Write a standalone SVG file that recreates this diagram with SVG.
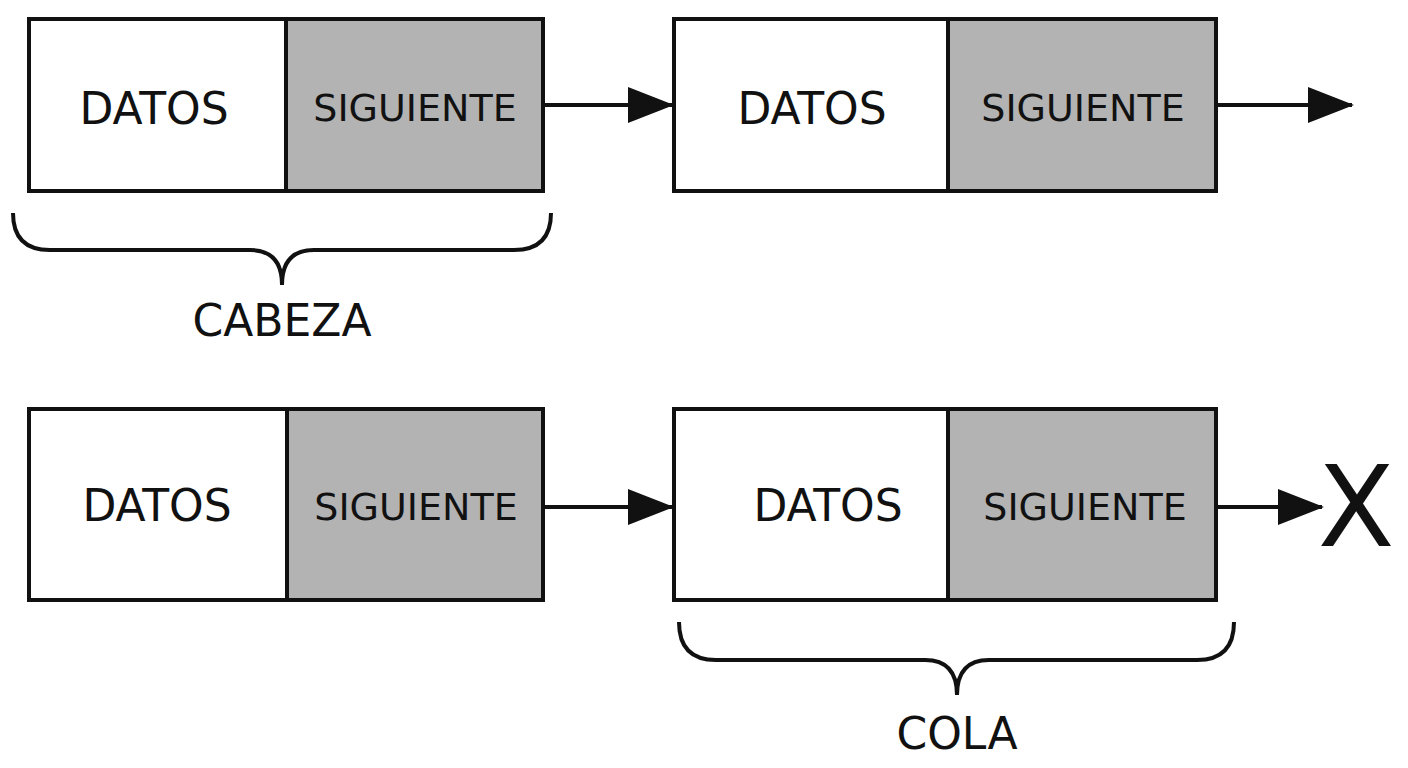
<svg xmlns="http://www.w3.org/2000/svg" width="1408" height="768" viewBox="0 0 1408 768">
<style>
.b{stroke:#111;stroke-width:4;}
.w{fill:#fff}.g{fill:#b3b3b3}
.t{font-family:"DejaVu Sans",sans-serif;fill:#111;text-anchor:middle;dominant-baseline:central}
.d{font-size:44px}.s{font-size:38px}
.c{fill:none;stroke:#111;stroke-width:4}
</style>
<defs><marker id="a" markerWidth="46" markerHeight="36" refX="44" refY="18" orient="auto" markerUnits="userSpaceOnUse"><path d="M0,0L46,18L0,36z" fill="#111"/></marker></defs>
<rect width="1408" height="768" fill="#fff"/>
<g id="n1"><rect class="b w" x="29" y="19" width="257" height="172"/><rect class="b g" x="286" y="19" width="257" height="172"/><text class="t d" x="154" y="108">DATOS</text><text class="t s" x="415" y="108">SIGUIENTE</text></g>
<g id="n2"><rect class="b w" x="674" y="19" width="274" height="172"/><rect class="b g" x="948" y="19" width="268" height="172"/><text class="t d" x="812" y="108">DATOS</text><text class="t s" x="1083" y="108">SIGUIENTE</text></g>
<g id="n3"><rect class="b w" x="29" y="409" width="258" height="191"/><rect class="b g" x="287" y="409" width="256" height="191"/><text class="t d" x="157" y="505">DATOS</text><text class="t s" x="416" y="507">SIGUIENTE</text></g>
<g id="n4"><rect class="b w" x="674" y="409" width="274" height="191"/><rect class="b g" x="948" y="409" width="268" height="191"/><text class="t d" x="828" y="505">DATOS</text><text class="t s" x="1085" y="507">SIGUIENTE</text></g>
<g id="connectors">
<line class="c" x1="543" y1="105" x2="672" y2="105" marker-end="url(#a)"/>
<line class="c" x1="1216" y1="105" x2="1352" y2="105" marker-end="url(#a)"/>
<line class="c" x1="543" y1="507" x2="672" y2="507" marker-end="url(#a)"/>
<line class="c" x1="1216" y1="507" x2="1322" y2="507" marker-end="url(#a)"/>
</g>
<text class="t" x="1356" y="507" style="font-size:112px">X</text>
<g id="cabeza"><path class="c" d="M13,213Q13,250 50,250L250,250Q282,250 282,285Q282,250 314,250L514,250Q551,250 551,213"/><text class="t d" x="282" y="320">CABEZA</text></g>
<g id="cola"><path class="c" d="M679,622Q679,660 716,660L925,660Q957,660 957,695Q957,660 989,660L1197,660Q1234,660 1234,622"/><text class="t d" x="957" y="733">COLA</text></g>
</svg>
